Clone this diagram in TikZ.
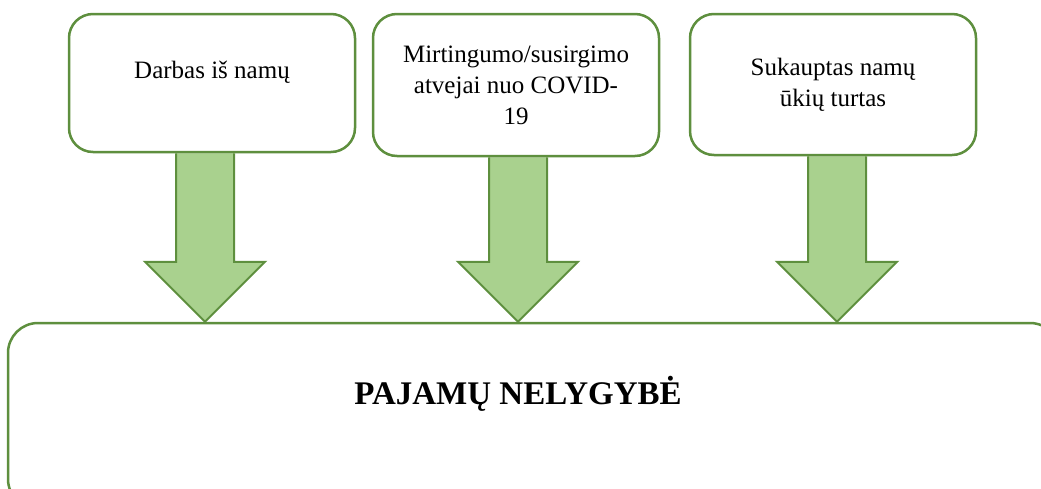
\documentclass[tikz,border=0pt]{standalone}
\usepackage{fontspec}
\setmainfont{Liberation Serif}
\usepackage{xcolor}
\usetikzlibrary{calc,shapes,backgrounds}
\definecolor{boxgreen}{HTML}{5E8F3E}
\definecolor{arrowgreen}{HTML}{A9D18E}

\begin{document}
\begin{tikzpicture}[x=1pt, y=-1pt, box/.style={draw=boxgreen, line width=2.5pt, rounded corners=24pt, fill=white, minimum width=286pt, minimum height=138pt, align=center, font=\fontsize{25}{31}\selectfont}, big box/.style={draw=boxgreen, line width=2.5pt, rounded corners=30pt, minimum width=1052pt, minimum height=186pt}, fat arrow/.style={draw=boxgreen, line width=2pt, fill=arrowgreen, line join=miter}]
\useasboundingbox (0,0) rectangle (1041,488);
\node[box, text depth=26pt] (1) at (212,83) {Darbas iš namų};
\node[box, minimum height=142pt] (2) at (516,85) {Mirtingumo/susirgimo\\atvejai nuo COVID-\\19};
\node[box, minimum height=141pt] (3) at (833,84.5) {Sukauptas namų\\ūkių turtas};
\node[big box] (4) at (534,416) {};
\node[font=\fontsize{33}{36}\selectfont\bfseries] (5) at (518,394) {PAJAMŲ NELYGYBĖ};
% arrows from the boxes down to the bottom box
\begin{pgfonlayer}{background}
\foreach \n/\dx in {1/-7,2/2,3/4}{
  \coordinate (s\n) at ($(\n.south)+(\dx,0)$);
  \coordinate (e\n) at (s\n |- 4.north);
  \draw[fat arrow] ($(s\n)+(-29,0)$) -- ($(e\n)+(-29,-60)$) -- ($(e\n)+(-60,-60)$) -- (e\n)
    -- ($(e\n)+(60,-60)$) -- ($(e\n)+(29,-60)$) -- ($(s\n)+(29,0)$);
}
\end{pgfonlayer}
\end{tikzpicture}
\end{document}
